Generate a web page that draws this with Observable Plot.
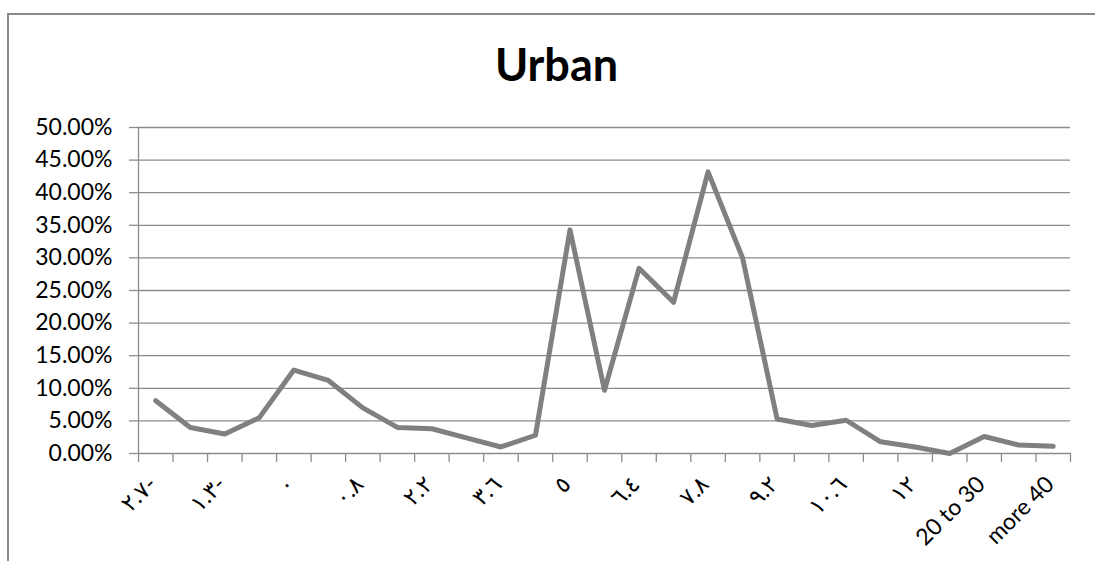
<!DOCTYPE html>
<html><head><meta charset="utf-8">
<script src="https://cdn.jsdelivr.net/npm/d3@7"></script>
<script src="https://cdn.jsdelivr.net/npm/@observablehq/plot@0.6"></script>
<style>
body{margin:0;background:#fff;}
#wrap{position:relative;width:1095px;height:561px;overflow:hidden;font-family:Lato,"DejaVu Sans",sans-serif;}
#frame{position:absolute;left:7px;top:13px;width:1200px;height:700px;border-top:2px solid #898989;border-left:2px solid #898989;}
#title{position:absolute;left:0;width:1113px;top:42px;text-align:center;font-weight:bold;font-size:45px;line-height:1;color:#000;}
#chart{position:absolute;left:0;top:0;}
</style></head>
<body>
<div id="wrap"><div id="frame"></div><div id="chart"></div><div id="title">Urban</div></div>
<script>
const categories = ["٢.٧-","٢-","١.٣-","٠.٦-","٠","٠.٤","٠.٨","١.٥","٢.٢","٢.٩","٣.٦","٤.٣","٥","٥.٧","٦.٤","٧.١","٧.٨","٨.٥","٩.٢","٩.٩","١٠.٦","١١.٣","١٢","12 to 20","20 to 30","30 to 40","more 40"];
const values = [0.081,0.040,0.030,0.055,0.128,0.112,0.070,0.040,0.038,0.024,0.010,0.028,0.343,0.097,0.284,0.232,0.432,0.300,0.053,0.043,0.051,0.018,0.010,0.000,0.026,0.013,0.011];
const yTicks = [0,0.05,0.10,0.15,0.20,0.25,0.30,0.35,0.40,0.45,0.50];
const labelIndex = categories.map((c,i)=>i).filter(i=>i%2===0);
const boundaries = d3.range(categories.length+1).map(i=>i-0.5);
const data = values.map((v,i)=>({i, v, c: categories[i]}));
const grey = "#8c8c8c";
const plot = Plot.plot({
  width:1095, height:561,
  marginLeft:138, marginRight:25, marginTop:127, marginBottom:108,
  x:{type:"linear", domain:[-0.5, categories.length-0.5]},
  y:{domain:[0,0.5]},
  style:{fontFamily:'Lato,"DejaVu Sans",sans-serif', fontSize:"23px", color:"#000", background:"transparent", overflow:"visible"},
  marks:[
    Plot.gridY(yTicks,{stroke:grey, strokeOpacity:1, strokeWidth:1.3}),
    Plot.ruleX([-0.5],{y1:0, y2:0.5, stroke:grey, strokeWidth:1.3}),
    Plot.axisY(yTicks,{tickFormat:d3.format(".2%"), tickSize:9, tickPadding:17, stroke:grey, strokeWidth:1.3, fill:"#000", fontSize:23, label:null}),
    Plot.axisX(boundaries,{tickSize:9, tickFormat:()=>"", stroke:grey, strokeWidth:1.3, label:null}),
    Plot.axisX(labelIndex,{tickSize:0, tickPadding:27, dx:-3, tickRotate:-45, tickFormat:i=>categories[i], fill:"#000", fontSize:23, label:null}),
    Plot.line(data,{x:"i", y:"v", stroke:"#808080", strokeWidth:5, strokeLinejoin:"round"})
  ]
});
document.getElementById("chart").appendChild(plot);
</script>
</body></html>
